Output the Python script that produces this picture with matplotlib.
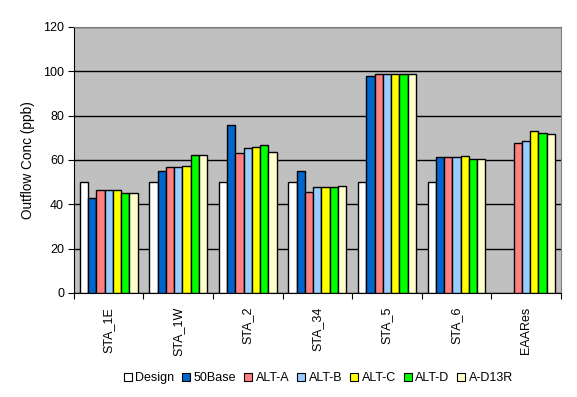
import matplotlib
matplotlib.use("Agg")
import matplotlib.pyplot as plt
import numpy as np

stations = ["STA_1E", "STA_1W", "STA_2", "STA_34", "STA_5", "STA_6", "EAARes"]
series = ["Design", "50Base", "ALT-A", "ALT-B", "ALT-C", "ALT-D", "A-D13R"]

design = [50, 50, 50, 50, 50, 50, np.nan]
base50 = [42.8, 54.9, 75.8, 54.9, 97.7, 61.2, np.nan]
alt_a = [46.3, 56.7, 63.0, 45.4, 98.9, 61.2, 67.5]
alt_b = [46.3, 56.7, 65.2, 47.7, 98.9, 61.2, 68.6]
alt_c = [46.3, 57.1, 66.0, 47.7, 98.9, 61.7, 73.1]
alt_d = [45.0, 62.1, 66.6, 47.7, 98.9, 60.3, 72.2]
a_d13r = [45.0, 62.1, 63.5, 48.1, 98.9, 60.3, 71.6]

values = [design, base50, alt_a, alt_b, alt_c, alt_d, a_d13r]
colors = ["#FFFFFF", "#0066CC", "#FF8080", "#99CCFF", "#FFFF00", "#00FF00", "#FFFFCC"]

plt.rcParams['font.family'] = ['Liberation Sans', 'DejaVu Sans']
plt.rcParams['font.size'] = 9

fig = plt.figure(figsize=(5.77, 3.97), dpi=100)
ax = fig.add_axes([0.128, 0.262, 0.844, 0.670])
ax.set_facecolor('#C0C0C0')

x = np.arange(len(stations))
w = 0.119
for i, (name, vals, c) in enumerate(zip(series, values, colors)):
    ax.bar(x + (i - 3) * w, vals, w, color=c, edgecolor='black', linewidth=1,
           label=name, zorder=3)

ax.set_xlim(-0.5, len(stations) - 0.5)
ax.set_ylim(0, 120)
ax.set_yticks(np.arange(0, 121, 20))
ax.yaxis.grid(True, color='black', linewidth=1, zorder=1)
ax.set_axisbelow(True)

# group boundaries get the tick marks, names sit between them
ax.set_xticks(np.arange(-0.5, len(stations), 1))
ax.set_xticklabels([])
ax.set_xticks(x, minor=True)
ax.set_xticklabels(stations, minor=True, rotation=90)
ax.tick_params(axis='x', which='minor', length=0, pad=10)
ax.tick_params(axis='x', which='major', length=4, direction='out', color='black')
ax.tick_params(axis='y', length=4, direction='out', pad=3)

ax.spines['top'].set_color('#808080')
ax.spines['right'].set_color('#808080')
ax.spines['left'].set_color('black')
ax.spines['bottom'].set_color('black')

ax.set_ylabel('Outflow Conc (ppb)', fontsize=9.8, labelpad=6)

handles = [plt.Line2D([], [], marker='s', linestyle='none', markersize=6,
                      markerfacecolor=c, markeredgecolor='black', markeredgewidth=0.8)
           for c in colors]
fig.legend(handles, series, loc='center', bbox_to_anchor=(0.55, 0.048), ncol=7,
           frameon=False, handletextpad=0.1, columnspacing=0.45, handlelength=1,
           borderaxespad=0)

fig.savefig('out.png', dpi=100)
